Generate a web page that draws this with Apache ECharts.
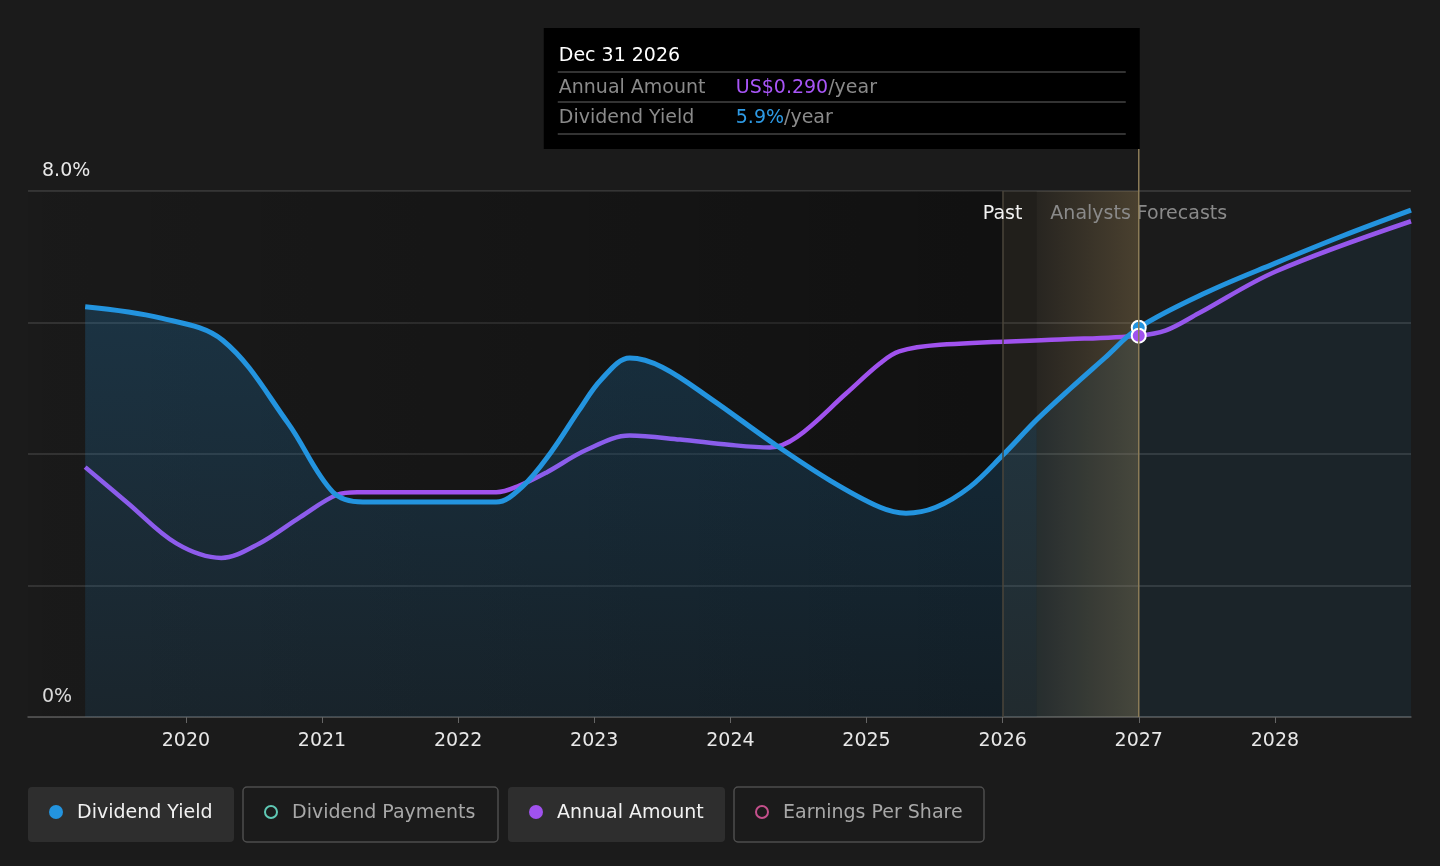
<!DOCTYPE html>
<html>
<head>
<meta charset="utf-8">
<style>
  html, body { margin: 0; padding: 0; background: #1b1b1b; }
  #chart { width: 1440px; height: 866px; }
</style>
<script src="https://cdn.jsdelivr.net/npm/echarts@6/dist/echarts.min.js"></script>
</head>
<body>
<div id="chart"></div>
<script>
// dividend yield (%), decimal years
const yieldYears = [2019.26, 2019.81, 2020.27, 2020.75, 2021.08, 2021.3, 2021.7, 2022.0, 2022.28,
  2022.47, 2022.68, 2022.89, 2023.05, 2023.26, 2023.5, 2023.87, 2024.31, 2024.73, 2025.1, 2025.29, 2025.51, 2025.76,
  2026.0, 2026.25, 2026.5, 2026.75, 2027.0, 2027.5, 2028.0, 2028.5, 2029.0];
const yieldValues = [6.24, 6.07, 5.73, 4.47, 3.42, 3.27, 3.27, 3.27, 3.27,
  3.5, 4.02, 4.67, 5.13, 5.46, 5.32, 4.82, 4.17, 3.6, 3.19, 3.1, 3.19, 3.5,
  3.98, 4.52, 5.0, 5.46, 5.92, 6.46, 6.9, 7.32, 7.71];

// annual amount (US$)
const amountYears = [2019.26, 2019.57, 2019.93, 2020.26, 2020.54, 2020.84, 2021.11, 2021.26, 2021.7, 2022.0, 2022.28,
  2022.45, 2022.65, 2022.94, 2023.26, 2023.63, 2023.99, 2024.29, 2024.49, 2024.85, 2025.1, 2025.24, 2025.54,
  2026.42, 2027.0, 2027.2, 2027.44, 2028.01, 2029.0];
const amountValues = [0.190, 0.163, 0.132, 0.121, 0.132, 0.152, 0.169, 0.171, 0.171, 0.171, 0.171,
  0.176, 0.186, 0.203, 0.214, 0.211, 0.207, 0.205, 0.213, 0.246, 0.269, 0.278, 0.283,
  0.287, 0.290, 0.294, 0.307, 0.339, 0.377];

const yearTicks = [2020, 2021, 2022, 2023, 2024, 2025, 2026, 2027, 2028];
const yieldTicks = [0, 2, 4, 6, 8];

const pastEnd = 2026.0;
const bandStart = 2026.25;
const areaSplit = 2026.25;
const cursorYear = 2027.0;
const cursorLabel = 'Dec 31 2026';

const legendItems = [
  { name: 'Dividend Yield', color: '#2394DF', active: true },
  { name: 'Dividend Payments', color: '#5FC8B4', active: false },
  { name: 'Annual Amount', color: '#A052EE', active: true },
  { name: 'Earnings Per Share', color: '#C4508C', active: false }
];

const BLUE = '#2394DF';
const PURPLE = '#A052EE';
const FONT = 'DejaVu Sans';
const SMOOTH = 0.35;

const yieldData = yieldYears.map((x, i) => [x, yieldValues[i]]);
const amountData = amountYears.map((x, i) => [x, amountValues[i]]);
const pastArea = yieldData.filter((d) => d[0] <= areaSplit);
const futureArea = yieldData.filter((d) => d[0] >= areaSplit);
const cursorYield = yieldValues[yieldYears.indexOf(cursorYear)];
const cursorAmount = amountValues[amountYears.indexOf(cursorYear)];

const myChart = echarts.init(document.getElementById('chart'));

myChart.setOption({
  backgroundColor: '#1b1b1b',
  animation: false,
  textStyle: { fontFamily: FONT },
  grid: { left: 28, right: 29, top: 191, bottom: 149 },
  xAxis: {
    type: 'value',
    min: 2018.84,
    max: 2029.0,
    axisLine: { lineStyle: { color: '#555', width: 1.5 } },
    axisTick: { show: true, length: 6, lineStyle: { color: '#666' }, customValues: yearTicks },
    axisLabel: {
      color: '#e8e8e8', fontSize: 19, fontFamily: FONT, margin: 15,
      customValues: yearTicks,
      formatter: (v) => String(Math.round(v))
    },
    splitLine: { show: false }
  },
  yAxis: [
    {
      type: 'value',
      min: 0,
      max: 8,
      interval: 2,
      axisLine: { show: false },
      axisTick: { show: false },
      axisLabel: {
        inside: true, margin: 14, verticalAlign: 'bottom', padding: [0, 0, 10, 0],
        color: '#e8e8e8', fontSize: 19, fontFamily: FONT,
        formatter: (v) => (v === yieldTicks[yieldTicks.length - 1] ? v.toFixed(1) + '%' : v === 0 ? '0%' : '')
      },
      splitLine: { lineStyle: { color: '#3f3f3f', width: 1.5 } }
    },
    { type: 'value', min: 0, max: 0.4, show: false }
  ],
  series: [
    {
      // past region darkening
      type: 'line', z: 1, data: [], silent: true,
      markArea: {
        silent: true,
        itemStyle: {
          color: new echarts.graphic.LinearGradient(0, 0, 1, 0, [
            { offset: 0, color: 'rgba(0,0,0,0.05)' },
            { offset: 1, color: 'rgba(0,0,0,0.38)' }
          ])
        },
        data: [[{ xAxis: 2018.84 }, { xAxis: pastEnd }]]
      }
    },
    {
      name: 'Annual Amount', type: 'line', z: 2, yAxisIndex: 1,
      data: amountData, smooth: SMOOTH, symbol: 'none',
      lineStyle: { color: PURPLE, width: 4.5 }
    },
    {
      type: 'line', z: 3, data: pastArea, smooth: SMOOTH, symbol: 'none', silent: true,
      lineStyle: { width: 0 },
      areaStyle: {
        color: new echarts.graphic.LinearGradient(0, 0, 0, 1, [
          { offset: 0, color: 'rgba(35,148,223,0.30)' },
          { offset: 1, color: 'rgba(35,148,223,0.14)' }
        ])
      }
    },
    {
      type: 'line', z: 3, data: futureArea, smooth: SMOOTH, symbol: 'none', silent: true,
      lineStyle: { width: 0 },
      areaStyle: { color: 'rgba(35,148,223,0.11)' }
    },
    {
      name: 'Dividend Yield', type: 'line', z: 4,
      data: yieldData, smooth: SMOOTH, symbol: 'none',
      lineStyle: { color: BLUE, width: 5 }
    },
    {
      // forecast band overlay
      type: 'line', z: 6, data: [], silent: true,
      markArea: {
        silent: true,
        data: [
          [{ xAxis: pastEnd, itemStyle: { color: 'rgba(70,55,30,0.14)' } }, { xAxis: bandStart }],
          [{
            xAxis: bandStart,
            itemStyle: {
              color: new echarts.graphic.LinearGradient(0, 0, 1, 0, [
                { offset: 0, color: 'rgba(150,125,80,0.10)' },
                { offset: 1, color: 'rgba(150,125,80,0.38)' }
              ])
            }
          }, { xAxis: cursorYear }]
        ]
      },
      markLine: {
        silent: true, symbol: 'none', label: { show: false },
        lineStyle: { color: '#4a443a', width: 1.5, type: 'solid' },
        data: [{ xAxis: pastEnd }]
      }
    },
    {
      type: 'scatter', z: 10, data: [[cursorYear, cursorYield]],
      symbolSize: 14, itemStyle: { color: BLUE, borderColor: '#fff', borderWidth: 2, opacity: 1 }
    },
    {
      type: 'scatter', z: 10, yAxisIndex: 1, data: [[cursorYear, cursorAmount]],
      symbolSize: 14, itemStyle: { color: PURPLE, borderColor: '#fff', borderWidth: 2, opacity: 1 }
    }
  ]
});

// overlays placed with the chart's own scales
const px = (x, y) => myChart.convertToPixel({ xAxisIndex: 0, yAxisIndex: 0 }, [x, y]);
const plotTop = px(pastEnd, 8)[1];
const plotBottom = px(pastEnd, 0)[1];
const pastX = px(pastEnd, 0)[0];
const curX = px(cursorYear, 0)[0];

const tipW = 596, tipH = 121, tipTop = 28;
const tipLeft = curX + 1 - tipW;
const graphics = [];

// cursor line
graphics.push({
  type: 'line', z: 50, silent: true,
  shape: { x1: curX, y1: tipTop + tipH, x2: curX, y2: plotBottom },
  style: { stroke: '#8c7c58', lineWidth: 1.5 }
});

// tooltip
graphics.push({ type: 'rect', z: 60, shape: { x: tipLeft, y: tipTop, width: tipW, height: tipH }, style: { fill: '#000' } });
[72, 102, 134].forEach((y) => {
  graphics.push({
    type: 'line', z: 61,
    shape: { x1: tipLeft + 14, y1: y, x2: tipLeft + 582, y2: y },
    style: { stroke: '#444', lineWidth: 1.5 }
  });
});
graphics.push({
  type: 'text', z: 62, x: tipLeft + 15, y: 56,
  style: { text: cursorLabel, fill: '#fff', font: '19px "DejaVu Sans"', verticalAlign: 'middle' }
});
const rows = [
  { label: 'Annual Amount', value: 'US$' + cursorAmount.toFixed(3), color: '#A855F7', y: 88 },
  { label: 'Dividend Yield', value: cursorYield.toFixed(1) + '%', color: '#2E9BE6', y: 118 }
];
rows.forEach((r) => {
  graphics.push({
    type: 'text', z: 62, x: tipLeft + 15, y: r.y,
    style: { text: r.label, fill: '#8a8a8a', font: '19px "DejaVu Sans"', verticalAlign: 'middle' }
  });
  graphics.push({
    type: 'text', z: 62, x: tipLeft + 192, y: r.y,
    style: {
      text: '{v|' + r.value + '}{u|/year}', verticalAlign: 'middle', font: '19px "DejaVu Sans"',
      rich: {
        v: { fill: r.color, font: '19px "DejaVu Sans"' },
        u: { fill: '#8a8a8a', font: '19px "DejaVu Sans"' }
      }
    }
  });
});

// past / forecast labels
graphics.push({
  type: 'text', z: 40, x: pastX, y: plotTop + 23,
  style: { text: 'Past', fill: '#f2f2f2', font: '19px "DejaVu Sans"', align: 'center', verticalAlign: 'middle' }
});
graphics.push({
  type: 'text', z: 40, x: curX, y: plotTop + 23,
  style: { text: 'Analysts Forecasts', fill: '#8a8a8a', font: '19px "DejaVu Sans"', align: 'center', verticalAlign: 'middle' }
});

// legend buttons
const boxes = [[28, 206], [243, 255], [508, 217], [734, 250]];
legendItems.forEach((item, i) => {
  const [bx, bw] = boxes[i];
  graphics.push({
    type: 'rect', z: 30,
    shape: { x: bx, y: 787, width: bw, height: 55, r: 4 },
    style: item.active ? { fill: '#2e2e2e' } : { fill: 'none', stroke: '#4e4e4e', lineWidth: 1.5 }
  });
  graphics.push({
    type: 'circle', z: 31,
    shape: { cx: bx + 28, cy: 812, r: item.active ? 7 : 6 },
    style: item.active ? { fill: item.color } : { fill: 'none', stroke: item.color, lineWidth: 2 }
  });
  graphics.push({
    type: 'text', z: 31, x: bx + 49, y: 813,
    style: {
      text: item.name, fill: item.active ? '#f2f2f2' : '#a8a8a8',
      font: '19px "DejaVu Sans"', verticalAlign: 'middle'
    }
  });
});

myChart.setOption({ graphic: graphics });
</script>
</body>
</html>
